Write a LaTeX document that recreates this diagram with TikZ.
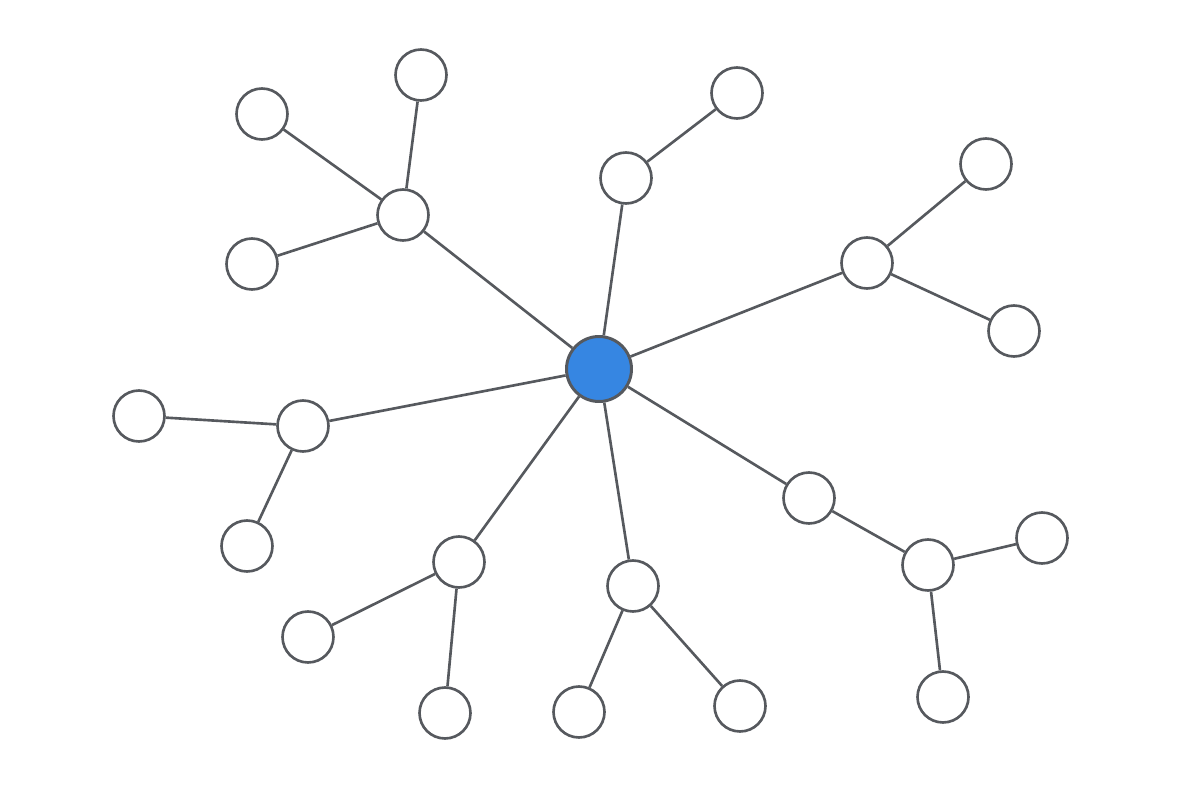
\documentclass[tikz,border=0pt]{standalone}
\usepackage{tikz}
\usetikzlibrary{positioning}
\definecolor{edgegray}{HTML}{56595E}
\definecolor{hubblue}{HTML}{3686E2}
\tikzset{
  leaf/.style={circle,draw=edgegray,line width=1.5pt,fill=white,minimum size=1.02cm,inner sep=0pt},
  hub/.style={circle,draw=edgegray,line width=1.7pt,fill=hubblue,minimum size=1.3cm,inner sep=0pt}
}
\begin{document}
\begin{tikzpicture}[x=0.02cm,y=-0.02cm]
\useasboundingbox (0,0) rectangle (1200,800);
\node[hub] (Z) at (599,369) {};
% first ring
\node[leaf] (A) at (403,215) {};
\node[leaf] (B) at (626,178) {};
\node[leaf] (C) at (867,263) {};
\node[leaf] (D) at (303,426) {};
\node[leaf] (E) at (459,562) {};
\node[leaf] (F) at (633,586) {};
\node[leaf] (G) at (809,498) {};
\node[leaf] (H) at (928,565) {};
% outer leaves
\node[leaf] (A1) at (421,75) {};
\node[leaf] (A2) at (262,114) {};
\node[leaf] (A3) at (252,264) {};
\node[leaf] (B1) at (737,93) {};
\node[leaf] (C1) at (986,164) {};
\node[leaf] (C2) at (1014,331) {};
\node[leaf] (D1) at (139,416) {};
\node[leaf] (D2) at (247,546) {};
\node[leaf] (E1) at (308,637) {};
\node[leaf] (E2) at (445,713) {};
\node[leaf] (F1) at (579,712) {};
\node[leaf] (F2) at (740,706) {};
\node[leaf] (H1) at (1042,538) {};
\node[leaf] (H2) at (943,697) {};
\path[draw=edgegray,line width=1.5pt]
(Z) edge (A) (Z) edge (B) (Z) edge (C) (Z) edge (D)
(Z) edge (E) (Z) edge (F) (Z) edge (G)
(G) edge (H)
(A) edge (A1) (A) edge (A2) (A) edge (A3)
(B) edge (B1)
(C) edge (C1) (C) edge (C2)
(D) edge (D1) (D) edge (D2)
(E) edge (E1) (E) edge (E2)
(F) edge (F1) (F) edge (F2)
(H) edge (H1) (H) edge (H2);
\end{tikzpicture}
\end{document}
